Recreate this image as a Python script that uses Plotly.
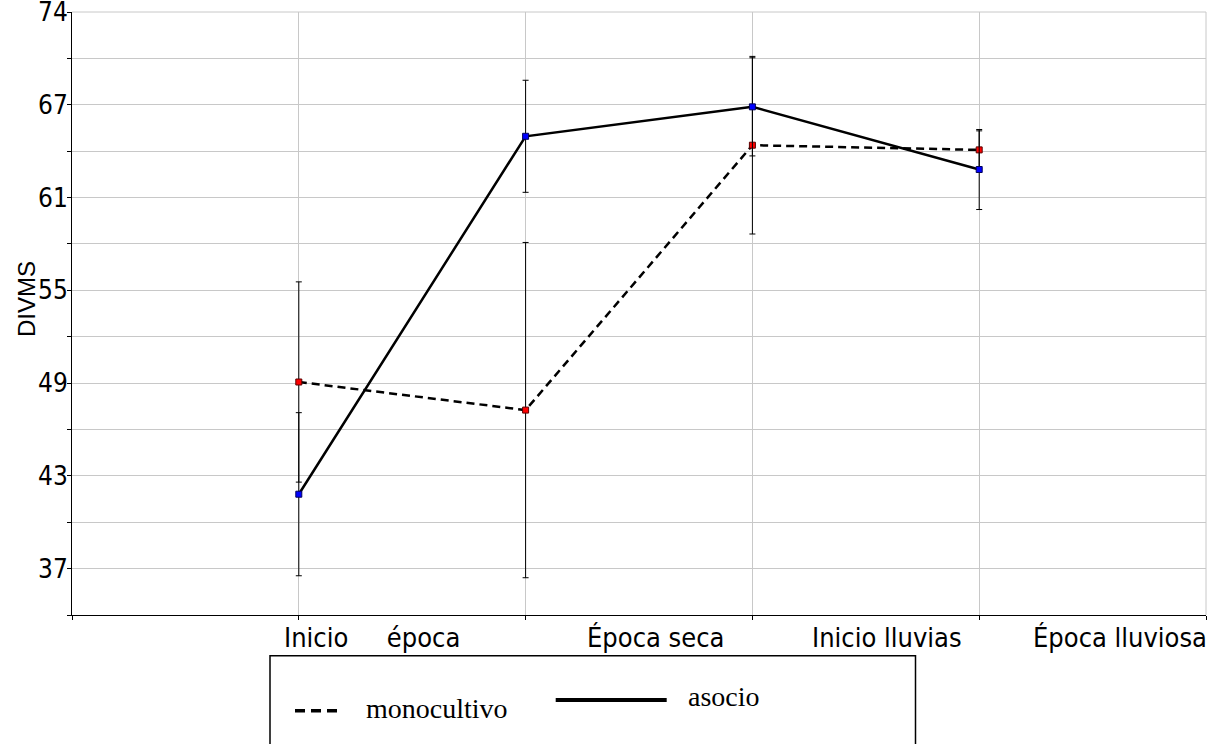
import plotly.graph_objects as go

# ---- data ----
x_pos = [1, 2, 3, 4]
category_labels = ["Inicio     época", "Época seca", "Inicio lluvias", "Época lluviosa"]
mono_vals = [49.50, 47.64, 65.18, 64.87]
mono_err = [6.63, 11.10, 5.88, 1.26]
asoc_vals = [42.07, 65.77, 67.72, 63.57]
asoc_err = [5.40, 3.71, 3.25, 2.65]

y_top = 74.0
y_step = 43.0 / 7.0
y_major = [y_top - k * y_step for k in range(7)]
y_ticktext = [str(int(round(v, 6))) for v in y_major]
y_minor = [y_top - (k + 0.5) * y_step for k in range(7)]
y_bottom = y_top - 6.5 * y_step

label_x = [1.323, 2.571, 3.594, 4.621]

narrow = "Liberation Sans Narrow, Arial Narrow, DejaVu Sans Condensed, Liberation Sans, Arial"
serif = "Liberation Serif, Times New Roman, serif"
grid = "#c8c8c8"

fig = go.Figure()

fig.add_trace(go.Scatter(
    x=x_pos, y=mono_vals, mode="lines+markers", name="monocultivo",
    line=dict(color="black", width=2.5, dash="8px,5px"),
    marker=dict(symbol="square", size=6, color="#ff0000", line=dict(color="#5a0000", width=1)),
    error_y=dict(type="data", array=mono_err, visible=True, color="black", thickness=1, width=3),
    showlegend=False,
))
fig.add_trace(go.Scatter(
    x=x_pos, y=asoc_vals, mode="lines+markers", name="asocio",
    line=dict(color="black", width=2.5),
    marker=dict(symbol="square", size=6, color="#0000ff", line=dict(color="#00005a", width=1)),
    error_y=dict(type="data", array=asoc_err, visible=True, color="black", thickness=1, width=3),
    showlegend=False,
))

fig.update_layout(
    width=1218, height=744,
    margin=dict(l=72, r=12, t=12, b=129, autoexpand=False),
    paper_bgcolor="white", plot_bgcolor="white",
    showlegend=False,
    xaxis=dict(
        range=[0, 5], tickmode="array", tickvals=[0, 1, 2, 3, 4, 5],
        showticklabels=False, ticks="outside", ticklen=4, tickcolor="black",
        showgrid=True, gridcolor=grid, gridwidth=1, automargin=False,
        showline=True, linecolor="black", linewidth=1, zeroline=False,
    ),
    yaxis=dict(
        range=[y_bottom, y_top], tickmode="array", tickvals=y_major, ticktext=y_ticktext,
        ticks="outside", ticklen=4, tickcolor="black", ticklabelstandoff=-6,
        ticklabeloverflow="allow", automargin=False,
        tickfont=dict(family=narrow, size=26, color="black"),
        showgrid=True, gridcolor=grid, gridwidth=1,
        minor=dict(tickmode="array", tickvals=y_minor + [y_bottom], ticks="outside", ticklen=4,
                   tickcolor="black", showgrid=True, gridcolor=grid, gridwidth=1),
        showline=True, linecolor="black", linewidth=1, zeroline=False,
    ),
)

# grid lines on the top and right edges of the plot area
fig.add_shape(type="line", xref="paper", yref="paper", x0=0, x1=1, y0=1, y1=1,
              line=dict(color=grid, width=1), layer="below")
fig.add_shape(type="line", xref="paper", yref="paper", x0=1, x1=1, y0=0, y1=1,
              line=dict(color=grid, width=1), layer="below")

# category labels under the x axis
for lx, txt in zip(label_x, category_labels):
    fig.add_annotation(x=lx, xref="x", y=(615 - 637) / 603, yref="paper",
                       text=txt, showarrow=False, xanchor="center", yanchor="middle",
                       font=dict(family=narrow, size=27, color="black"))

# y axis title
fig.add_annotation(x=(26 - 72) / 1134, xref="paper", y=(615 - 299) / 603, yref="paper",
                   text="DIVMS", textangle=-90, showarrow=False,
                   xanchor="center", yanchor="middle",
                   font=dict(family="Liberation Sans, Arial", size=24, color="black"))

# legend box
def px(xp):
    return (xp - 72) / 1134

def py(yp):
    return (615 - yp) / 603

fig.add_shape(type="rect", xref="paper", yref="paper",
              x0=px(270), x1=px(915.5), y0=py(655.7), y1=py(760),
              line=dict(color="black", width=1.5), fillcolor="rgba(0,0,0,0)")
fig.add_shape(type="line", xref="paper", yref="paper",
              x0=px(295), x1=px(337), y0=py(710.7), y1=py(710.7),
              line=dict(color="black", width=3.5, dash="10px,6px"))
fig.add_annotation(x=px(364), xref="paper", y=py(708), yref="paper",
                   text="monocultivo", showarrow=False, xanchor="left", yanchor="middle",
                   font=dict(family=serif, size=28, color="black"))
fig.add_shape(type="line", xref="paper", yref="paper",
              x0=px(555.7), x1=px(666.7), y0=py(700), y1=py(700),
              line=dict(color="black", width=4))
fig.add_annotation(x=px(686), xref="paper", y=py(696), yref="paper",
                   text="asocio", showarrow=False, xanchor="left", yanchor="middle",
                   font=dict(family=serif, size=28, color="black"))

fig.write_html("out.html", config={"displayModeBar": False},
               post_script="document.body.style.margin='0';document.body.style.padding='0';")
